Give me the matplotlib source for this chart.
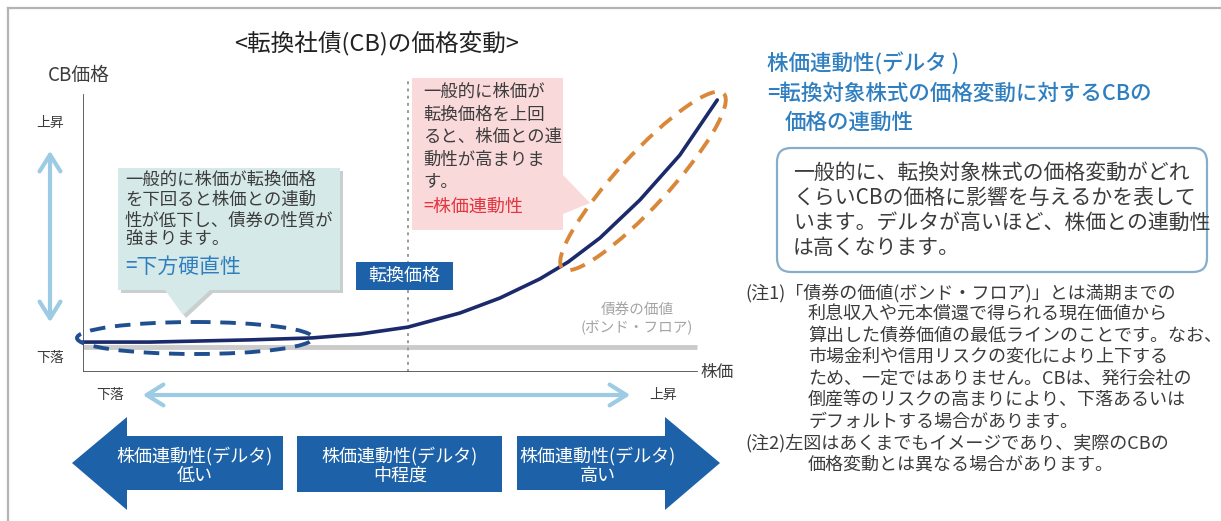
import matplotlib
matplotlib.use("Agg")
import matplotlib.pyplot as plt
from matplotlib.patches import Polygon, Rectangle, Ellipse, FancyBboxPatch, FancyArrowPatch

plt.rcParams['font.family'] = ['Noto Sans CJK JP', 'DejaVu Sans']

# CB price path vs stock price (schematic values, axes 0-100)
stock_price = [0, 10.9, 19.1, 27.2, 37.3, 45.1, 52.9, 61.4, 67.9, 74.4, 79.0, 84.2, 90.7, 97.2, 103.3]
cb_price = [10.8, 10.8, 11.2, 11.6, 12.3, 13.7, 16.2, 21.3, 26.7, 33.6, 39.7, 48.4, 62.1, 78.3, 98.2]
bond_floor = 9.0
conversion_price = 52.9

title = "<転換社債(CB)の価格変動>"
band_labels = ["株価連動性(デルタ)\n低い", "株価連動性(デルタ)\n中程度", "株価連動性(デルタ)\n高い"]
left_note = ["一般的に株価が転換価格", "を下回ると株価との連動", "性が低下し、債券の性質が", "強まります。"]
right_note = ["一般的に株価が", "転換価格を上回", "ると、株価との連", "動性が高まりま", "す。"]
header = ["株価連動性(デルタ )", "=転換対象株式の価格変動に対するCBの", "価格の連動性"]
box_text = ["一般的に、転換対象株式の価格変動がどれ",
            "くらいCBの価格に影響を与えるかを表して",
            "います。デルタが高いほど、株価との連動性",
            "は高くなります。"]
notes = [("(注1)「債券の価値(ボンド・フロア)」とは満期までの", False),
         ("利息収入や元本償還で得られる現在価値から", True),
         ("算出した債券価値の最低ラインのことです。なお、", True),
         ("市場金利や信用リスクの変化により上下する", True),
         ("ため、一定ではありません。CBは、発行会社の", True),
         ("倒産等のリスクの高まりにより、下落あるいは", True),
         ("デフォルトする場合があります。", True),
         ("(注2)左図はあくまでもイメージであり、実際のCBの", False),
         ("価格変動とは異なる場合があります。", True)]

TXT = "#3c3c3c"
BLUE = "#1d62a8"
LIGHT = "#9ccbe3"

W, H = 1221, 521
fig = plt.figure(figsize=(W / 100, H / 100), dpi=100)

# chart axes (x: 0-104, y: 0-106)
ax = fig.add_axes([83 / W, (H - 372) / H, 104 * 6.14 / W, 106 * 2.77 / H])
ax.set_xlim(0, 104)
ax.set_ylim(0, 106)
ax.axis("off")
ax.plot([0, 100], [bond_floor, bond_floor], color="#cbcbcb", lw=3.5, solid_capstyle="butt")
ax.plot([conversion_price, conversion_price], [0, 105.5], color="#9a9a9a", lw=1.4,
        ls=(0, (1.5, 2.2)))
ax.plot([0, 0], [0, 100], color="#555555", lw=1.3)
ax.plot([0, 100], [0, 0], color="#555555", lw=1.3)
ax.plot(stock_price, cb_price, color="#1b2a6b", lw=2.6, clip_on=False, solid_capstyle="round")

# overlay in pixel coordinates for the annotations
ov = fig.add_axes([0, 0, 1, 1])
ov.set_xlim(0, W)
ov.set_ylim(H, 0)
ov.axis("off")
ov.patch.set_alpha(0)

# outer frame
ov.plot([8, W], [8, 8], color="#b4b4b4", lw=1.6)
ov.plot([8, 8], [8, H], color="#b4b4b4", lw=1.6)

ov.text(377, 43, title, ha="center", va="center", fontsize=17, color="#222222")
ov.text(48, 75, "CB価格", ha="left", va="center", fontsize=13.5, color=TXT)
ov.text(50, 123, "上昇", ha="center", va="center", fontsize=10, color=TXT)
ov.text(50, 358, "下落", ha="center", va="center", fontsize=10, color=TXT)
ov.text(700, 372, "株価", ha="left", va="center", fontsize=12, color=TXT)
ov.add_patch(FancyArrowPatch((50, 148), (50, 325), arrowstyle="<->,head_length=8,head_width=5",
                             color=LIGHT, lw=3, mutation_scale=1.5))

# bond floor label
ov.text(637, 319, "債券の価値\n(ボンド・フロア)", ha="center", va="center", fontsize=10.5,
        color="#a4a4a4", linespacing=1.3)

# left callout (teal)
teal = [(118, 168), (340, 168), (340, 290), (210, 290), (183, 315), (165, 290), (118, 290)]
ov.add_patch(Polygon([(x + 3, y + 3) for x, y in teal], closed=True, fc="#c9cfcf", ec="none"))
ov.add_patch(Polygon(teal, closed=True, fc="#d6e9e9", ec="none"))
for i, line in enumerate(left_note):
    ov.text(125, 180 + 20 * i, line, ha="left", va="center", fontsize=12.5, color=TXT)
ov.text(125, 267, "=下方硬直性", ha="left", va="center", fontsize=15, color="#2f7fbf")

# right callout (pink)
pink = [(412, 78), (563, 78), (563, 175), (590, 203), (563, 214), (563, 230), (412, 230)]
ov.add_patch(Polygon(pink, closed=True, fc="#f9d9d9", ec="none"))
for i, line in enumerate(right_note):
    ov.text(423, 92 + 22.5 * i, line, ha="left", va="center", fontsize=12.5, color=TXT)
ov.text(423, 207, "=株価連動性", ha="left", va="center", fontsize=13, color="#e3343f")

# conversion price tag
ov.add_patch(Rectangle((356, 262), 97, 28, fc=BLUE, ec="none"))
ov.text(404.5, 276, "転換価格", ha="center", va="center", fontsize=13, color="white")

# dashed ellipses
ov.add_patch(Ellipse((195, 338), 236, 32, fill=False, ec="#1f4f8f", lw=2.8, ls=(0, (4, 2.5))))
ov.add_patch(Ellipse((643, 181), 238, 52, angle=-47.4, fill=False, ec="#d9883a", lw=2.8,
                     ls=(0, (4, 2.5))))

# stock price direction arrow
ov.text(110, 395, "下落", ha="center", va="center", fontsize=10, color=TXT)
ov.text(663, 395, "上昇", ha="center", va="center", fontsize=10, color=TXT)
ov.add_patch(FancyArrowPatch((140, 395), (633, 395), arrowstyle="<->,head_length=8,head_width=5",
                             color=LIGHT, lw=3, mutation_scale=1.5))

# delta bands
ov.add_patch(Polygon([(72, 463), (127, 417), (127, 436), (283, 436), (283, 490), (127, 490),
                      (127, 510)], closed=True, fc=BLUE, ec="none"))
ov.add_patch(Rectangle((297, 436), 205, 56, fc=BLUE, ec="none"))
ov.add_patch(Polygon([(517, 436), (665, 436), (665, 417), (720, 463), (665, 510), (665, 490),
                      (517, 490)], closed=True, fc=BLUE, ec="none"))
for cx, lbl in zip([195, 400, 598], band_labels):
    ov.text(cx, 466, lbl, ha="center", va="center", fontsize=13, color="white",
            linespacing=1.1)

# right-hand explanation
HB = "#2f7fc0"
ov.text(767, 63, header[0], ha="left", va="center", fontsize=15.5, color=HB, fontweight="medium")
ov.text(767, 94, header[1], ha="left", va="center", fontsize=15.5, color=HB, fontweight="medium")
ov.text(785, 123, header[2], ha="left", va="center", fontsize=15.5, color=HB, fontweight="medium")

ov.add_patch(FancyBboxPatch((777, 148), 430, 124, boxstyle="round,pad=0,rounding_size=14",
                            fc="white", ec="#86aecb", lw=1.6))
for i, line in enumerate(box_text):
    ov.text(793, 173 + 25 * i, line, ha="left", va="center", fontsize=15, color=TXT)

for i, (line, indent) in enumerate(notes):
    ov.text(808 if indent else 745, 293 + 21.4 * i, line, ha="left", va="center",
            fontsize=13, color=TXT)

fig.savefig("out.png", dpi=100)
